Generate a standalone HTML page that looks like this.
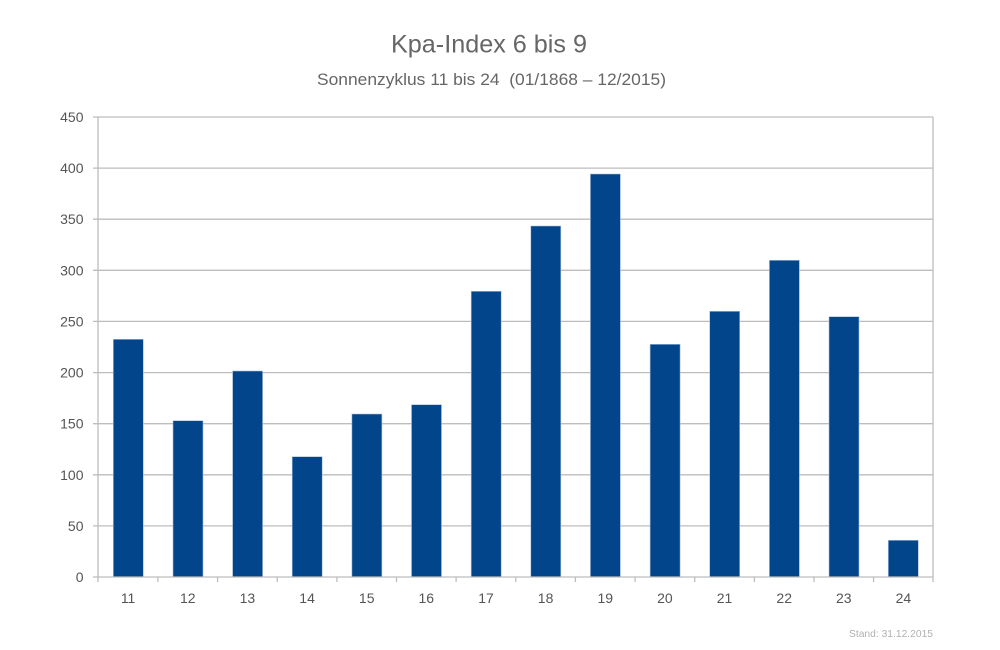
<!DOCTYPE html>
<html>
<head>
<meta charset="utf-8">
<style>
html,body{margin:0;padding:0;background:#fff;}
svg{display:block;}
text{font-family:"Liberation Sans",sans-serif;}
</style>
</head>
<body>
<svg width="1000" height="650" viewBox="0 0 1000 650" xmlns="http://www.w3.org/2000/svg">
<rect width="1000" height="650" fill="#fff"/>
<text x="489" y="52.5" font-size="25" fill="#666" text-anchor="middle" textLength="196" lengthAdjust="spacingAndGlyphs">Kpa-Index 6 bis 9</text>
<text x="491.5" y="85" font-size="17" fill="#666" text-anchor="middle" textLength="349" lengthAdjust="spacingAndGlyphs">Sonnenzyklus 11 bis 24&#160; (01/1868 – 12/2015)</text>

<g stroke="#bdbdbd" stroke-width="1.3">
<line x1="93" y1="117" x2="933" y2="117"/>
<line x1="93" y1="168.1" x2="933" y2="168.1"/>
<line x1="93" y1="219.2" x2="933" y2="219.2"/>
<line x1="93" y1="270.3" x2="933" y2="270.3"/>
<line x1="93" y1="321.4" x2="933" y2="321.4"/>
<line x1="93" y1="372.6" x2="933" y2="372.6"/>
<line x1="93" y1="423.7" x2="933" y2="423.7"/>
<line x1="93" y1="474.8" x2="933" y2="474.8"/>
<line x1="93" y1="525.9" x2="933" y2="525.9"/>
<line x1="933" y1="117" x2="933" y2="577"/>
</g>

<g fill="#02458a" stroke="#a9bfdc" stroke-width="0.6">
<rect x="113.3" y="339.3" width="30" height="237.7"/>
<rect x="173" y="420.7" width="30" height="156.3"/>
<rect x="232.6" y="371" width="30" height="206"/>
<rect x="292.2" y="456.7" width="30" height="120.3"/>
<rect x="351.9" y="414" width="30" height="163"/>
<rect x="411.5" y="404.7" width="30" height="172.3"/>
<rect x="471.2" y="291.3" width="30" height="285.7"/>
<rect x="530.8" y="226" width="30" height="351"/>
<rect x="590.4" y="174" width="30" height="403"/>
<rect x="650.1" y="344.3" width="30" height="232.7"/>
<rect x="709.7" y="311.3" width="30" height="265.7"/>
<rect x="769.4" y="260.3" width="30" height="316.7"/>
<rect x="829" y="316.7" width="30" height="260.3"/>
<rect x="888.3" y="540.3" width="30" height="36.7"/>
</g>

<g stroke="#bdbdbd" stroke-width="1.3">
<line x1="98" y1="117" x2="98" y2="582"/>
<line x1="93" y1="577" x2="933" y2="577"/>
<line x1="157.9" y1="577" x2="157.9" y2="582"/>
<line x1="217.6" y1="577" x2="217.6" y2="582"/>
<line x1="277.2" y1="577" x2="277.2" y2="582"/>
<line x1="336.9" y1="577" x2="336.9" y2="582"/>
<line x1="396.5" y1="577" x2="396.5" y2="582"/>
<line x1="456.1" y1="577" x2="456.1" y2="582"/>
<line x1="515.8" y1="577" x2="515.8" y2="582"/>
<line x1="575.4" y1="577" x2="575.4" y2="582"/>
<line x1="635.1" y1="577" x2="635.1" y2="582"/>
<line x1="694.7" y1="577" x2="694.7" y2="582"/>
<line x1="754.4" y1="577" x2="754.4" y2="582"/>
<line x1="814" y1="577" x2="814" y2="582"/>
<line x1="873.6" y1="577" x2="873.6" y2="582"/>
<line x1="933" y1="577" x2="933" y2="582"/>
</g>

<g font-size="14" fill="#555" text-anchor="end">
<text x="83.5" y="122">450</text>
<text x="83.5" y="173.1">400</text>
<text x="83.5" y="224.2">350</text>
<text x="83.5" y="275.3">300</text>
<text x="83.5" y="326.4">250</text>
<text x="83.5" y="377.6">200</text>
<text x="83.5" y="428.7">150</text>
<text x="83.5" y="479.8">100</text>
<text x="83.5" y="530.9">50</text>
<text x="83.5" y="582">0</text>
</g>

<g font-size="14" fill="#555" text-anchor="middle">
<text x="128.1" y="603">11</text>
<text x="187.8" y="603">12</text>
<text x="247.4" y="603">13</text>
<text x="307.1" y="603">14</text>
<text x="366.7" y="603">15</text>
<text x="426.3" y="603">16</text>
<text x="486" y="603">17</text>
<text x="545.6" y="603">18</text>
<text x="605.3" y="603">19</text>
<text x="664.9" y="603">20</text>
<text x="724.5" y="603">21</text>
<text x="784.2" y="603">22</text>
<text x="843.8" y="603">23</text>
<text x="903.4" y="603">24</text>
</g>

<text x="933" y="637" font-size="10.5" fill="#b0b0b0" text-anchor="end" textLength="84" lengthAdjust="spacingAndGlyphs">Stand: 31.12.2015</text>
</svg>
</body>
</html>
